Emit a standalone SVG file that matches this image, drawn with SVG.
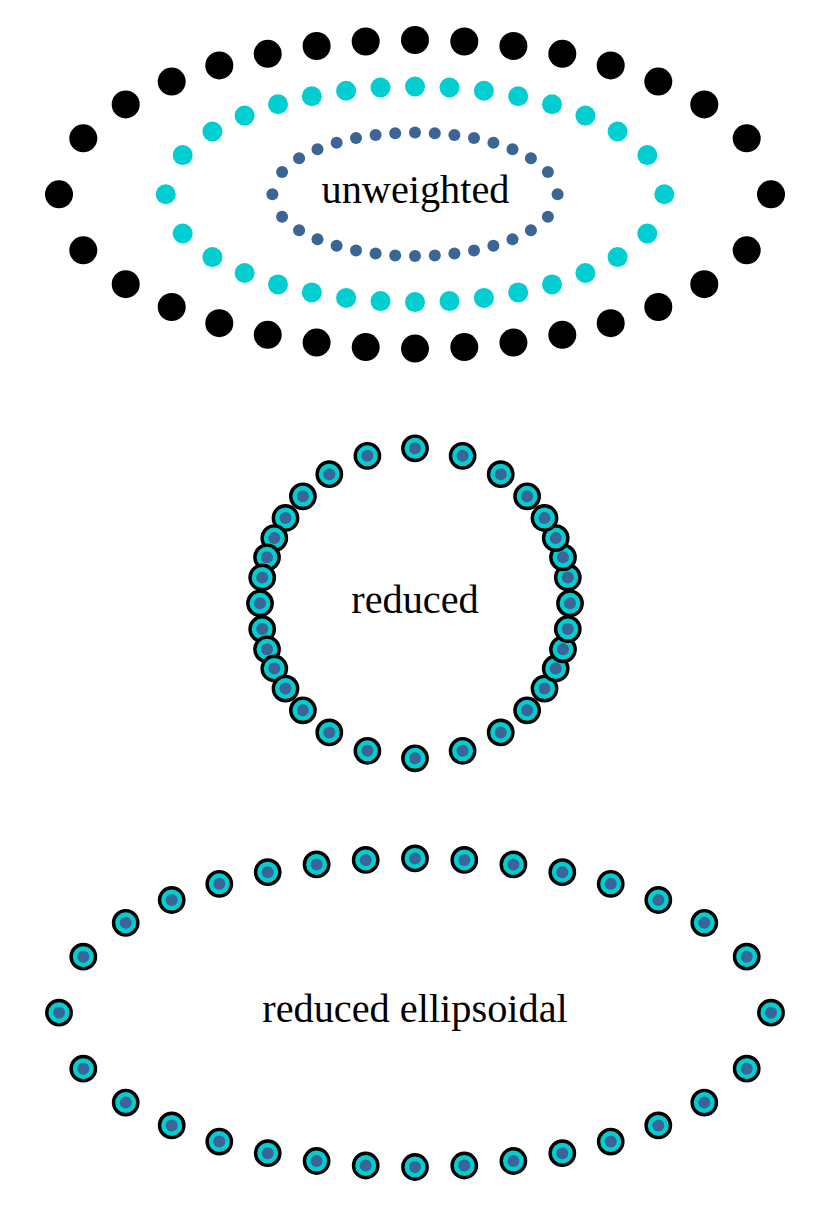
<svg xmlns="http://www.w3.org/2000/svg" xmlns:xlink="http://www.w3.org/1999/xlink" width="831" height="1208" viewBox="0 0 831 1208">
<style>
.k{fill:#000}
.c{fill:#00ced1}
.b{fill:#3a6595}
.lbl{font-family:"Liberation Serif","Times New Roman",serif;font-size:40.3px;fill:#000;text-anchor:middle}
</style>
<defs>
<g id="rm"><circle r="12.2" fill="#00ced1" stroke="#000" stroke-width="3.4"/><circle r="6" fill="#3a6595"/></g>
</defs>
<rect width="831" height="1208" fill="#fff"/>
<g id="unweighted">
<g id="outer" class="k">
<circle cx="771" cy="194.3" r="14"/><circle cx="746.7" cy="138.3" r="14"/><circle cx="704.3" cy="104.4" r="14"/><circle cx="658.3" cy="81.6" r="14"/><circle cx="610.7" cy="65.4" r="14"/><circle cx="562.3" cy="53.8" r="14"/><circle cx="513.4" cy="46" r="14"/><circle cx="464.3" cy="41.5" r="14"/><circle cx="415" cy="40" r="14"/>
<circle cx="365.7" cy="41.5" r="14"/><circle cx="316.6" cy="46" r="14"/><circle cx="267.7" cy="53.8" r="14"/><circle cx="219.3" cy="65.4" r="14"/><circle cx="171.7" cy="81.6" r="14"/><circle cx="125.7" cy="104.4" r="14"/><circle cx="83.3" cy="138.3" r="14"/><circle cx="59" cy="194.3" r="14"/>
<circle cx="83.3" cy="250.3" r="14"/><circle cx="125.7" cy="284.2" r="14"/><circle cx="171.7" cy="307" r="14"/><circle cx="219.3" cy="323.2" r="14"/><circle cx="267.7" cy="334.8" r="14"/><circle cx="316.6" cy="342.6" r="14"/><circle cx="365.7" cy="347.1" r="14"/><circle cx="415" cy="348.6" r="14"/>
<circle cx="464.3" cy="347.1" r="14"/><circle cx="513.4" cy="342.6" r="14"/><circle cx="562.3" cy="334.8" r="14"/><circle cx="610.7" cy="323.2" r="14"/><circle cx="658.3" cy="307" r="14"/><circle cx="704.3" cy="284.2" r="14"/><circle cx="746.7" cy="250.3" r="14"/>
</g>
<g id="middle" class="c">
<circle cx="664.3" cy="194.3" r="10"/><circle cx="647.3" cy="155.1" r="10"/><circle cx="617.6" cy="131.5" r="10"/><circle cx="585.4" cy="115.6" r="10"/><circle cx="552" cy="104.2" r="10"/><circle cx="518.2" cy="96.2" r="10"/><circle cx="483.9" cy="90.7" r="10"/><circle cx="449.5" cy="87.5" r="10"/><circle cx="415" cy="86.5" r="10"/>
<circle cx="380.5" cy="87.5" r="10"/><circle cx="346.1" cy="90.7" r="10"/><circle cx="311.8" cy="96.2" r="10"/><circle cx="278" cy="104.2" r="10"/><circle cx="244.6" cy="115.6" r="10"/><circle cx="212.4" cy="131.5" r="10"/><circle cx="182.7" cy="155.1" r="10"/><circle cx="165.7" cy="194.3" r="10"/>
<circle cx="182.7" cy="233.5" r="10"/><circle cx="212.4" cy="257.1" r="10"/><circle cx="244.6" cy="273" r="10"/><circle cx="278" cy="284.4" r="10"/><circle cx="311.8" cy="292.4" r="10"/><circle cx="346.1" cy="297.9" r="10"/><circle cx="380.5" cy="301.1" r="10"/><circle cx="415" cy="302.1" r="10"/>
<circle cx="449.5" cy="301.1" r="10"/><circle cx="483.9" cy="297.9" r="10"/><circle cx="518.2" cy="292.4" r="10"/><circle cx="552" cy="284.4" r="10"/><circle cx="585.4" cy="273" r="10"/><circle cx="617.6" cy="257.1" r="10"/><circle cx="647.3" cy="233.5" r="10"/>
</g>
<g id="inner" class="b">
<circle cx="557.6" cy="194.3" r="6"/><circle cx="547.9" cy="171.9" r="6"/><circle cx="530.9" cy="158.3" r="6"/><circle cx="512.5" cy="149.3" r="6"/><circle cx="493.4" cy="142.8" r="6"/><circle cx="474" cy="138.1" r="6"/><circle cx="454.4" cy="135" r="6"/><circle cx="434.8" cy="133.2" r="6"/><circle cx="415" cy="132.6" r="6"/>
<circle cx="395.2" cy="133.2" r="6"/><circle cx="375.6" cy="135" r="6"/><circle cx="356" cy="138.1" r="6"/><circle cx="336.6" cy="142.8" r="6"/><circle cx="317.5" cy="149.3" r="6"/><circle cx="299.1" cy="158.3" r="6"/><circle cx="282.1" cy="171.9" r="6"/><circle cx="272.4" cy="194.3" r="6"/>
<circle cx="282.1" cy="216.7" r="6"/><circle cx="299.1" cy="230.3" r="6"/><circle cx="317.5" cy="239.3" r="6"/><circle cx="336.6" cy="245.8" r="6"/><circle cx="356" cy="250.5" r="6"/><circle cx="375.6" cy="253.6" r="6"/><circle cx="395.2" cy="255.4" r="6"/><circle cx="415" cy="256" r="6"/>
<circle cx="434.8" cy="255.4" r="6"/><circle cx="454.4" cy="253.6" r="6"/><circle cx="474" cy="250.5" r="6"/><circle cx="493.4" cy="245.8" r="6"/><circle cx="512.5" cy="239.3" r="6"/><circle cx="530.9" cy="230.3" r="6"/><circle cx="547.9" cy="216.7" r="6"/>
</g>
<text class="lbl" x="415.5" y="202.6">unweighted</text>
</g>
<g id="reduced">
<use href="#rm" x="570" y="603.3"/><use href="#rm" x="567.8" y="577.5"/><use href="#rm" x="563" y="557.3"/><use href="#rm" x="555.7" y="538.1"/><use href="#rm" x="544.5" y="518"/><use href="#rm" x="527.1" y="496.3"/><use href="#rm" x="500.7" y="474.2"/><use href="#rm" x="462.6" y="455.8"/><use href="#rm" x="415" y="448.3"/>
<use href="#rm" x="367.4" y="455.8"/><use href="#rm" x="329.3" y="474.2"/><use href="#rm" x="302.9" y="496.3"/><use href="#rm" x="285.5" y="518"/><use href="#rm" x="274.3" y="538.1"/><use href="#rm" x="267" y="557.3"/><use href="#rm" x="262.2" y="577.5"/><use href="#rm" x="260" y="603.3"/>
<use href="#rm" x="262.2" y="629.1"/><use href="#rm" x="267" y="649.3"/><use href="#rm" x="274.3" y="668.5"/><use href="#rm" x="285.5" y="688.6"/><use href="#rm" x="302.9" y="710.3"/><use href="#rm" x="329.3" y="732.4"/><use href="#rm" x="367.4" y="750.8"/><use href="#rm" x="415" y="758.3"/>
<use href="#rm" x="462.6" y="750.8"/><use href="#rm" x="500.7" y="732.4"/><use href="#rm" x="527.1" y="710.3"/><use href="#rm" x="544.5" y="688.6"/><use href="#rm" x="555.7" y="668.5"/><use href="#rm" x="563" y="649.3"/><use href="#rm" x="567.8" y="629.1"/>
<text class="lbl" x="415" y="612.6">reduced</text>
</g>
<g id="reduced-ellipsoidal">
<use href="#rm" x="771" y="1012.7"/><use href="#rm" x="746.7" y="956.7"/><use href="#rm" x="704.3" y="922.8"/><use href="#rm" x="658.3" y="900"/><use href="#rm" x="610.7" y="883.8"/><use href="#rm" x="562.3" y="872.2"/><use href="#rm" x="513.4" y="864.4"/><use href="#rm" x="464.3" y="859.9"/><use href="#rm" x="415" y="858.4"/>
<use href="#rm" x="365.7" y="859.9"/><use href="#rm" x="316.6" y="864.4"/><use href="#rm" x="267.7" y="872.2"/><use href="#rm" x="219.3" y="883.8"/><use href="#rm" x="171.7" y="900"/><use href="#rm" x="125.7" y="922.8"/><use href="#rm" x="83.3" y="956.7"/><use href="#rm" x="59" y="1012.7"/>
<use href="#rm" x="83.3" y="1068.7"/><use href="#rm" x="125.7" y="1102.6"/><use href="#rm" x="171.7" y="1125.4"/><use href="#rm" x="219.3" y="1141.6"/><use href="#rm" x="267.7" y="1153.2"/><use href="#rm" x="316.6" y="1161"/><use href="#rm" x="365.7" y="1165.5"/><use href="#rm" x="415" y="1167"/>
<use href="#rm" x="464.3" y="1165.5"/><use href="#rm" x="513.4" y="1161"/><use href="#rm" x="562.3" y="1153.2"/><use href="#rm" x="610.7" y="1141.6"/><use href="#rm" x="658.3" y="1125.4"/><use href="#rm" x="704.3" y="1102.6"/><use href="#rm" x="746.7" y="1068.7"/>
<text class="lbl" x="415" y="1022">reduced ellipsoidal</text>
</g>
</svg>
